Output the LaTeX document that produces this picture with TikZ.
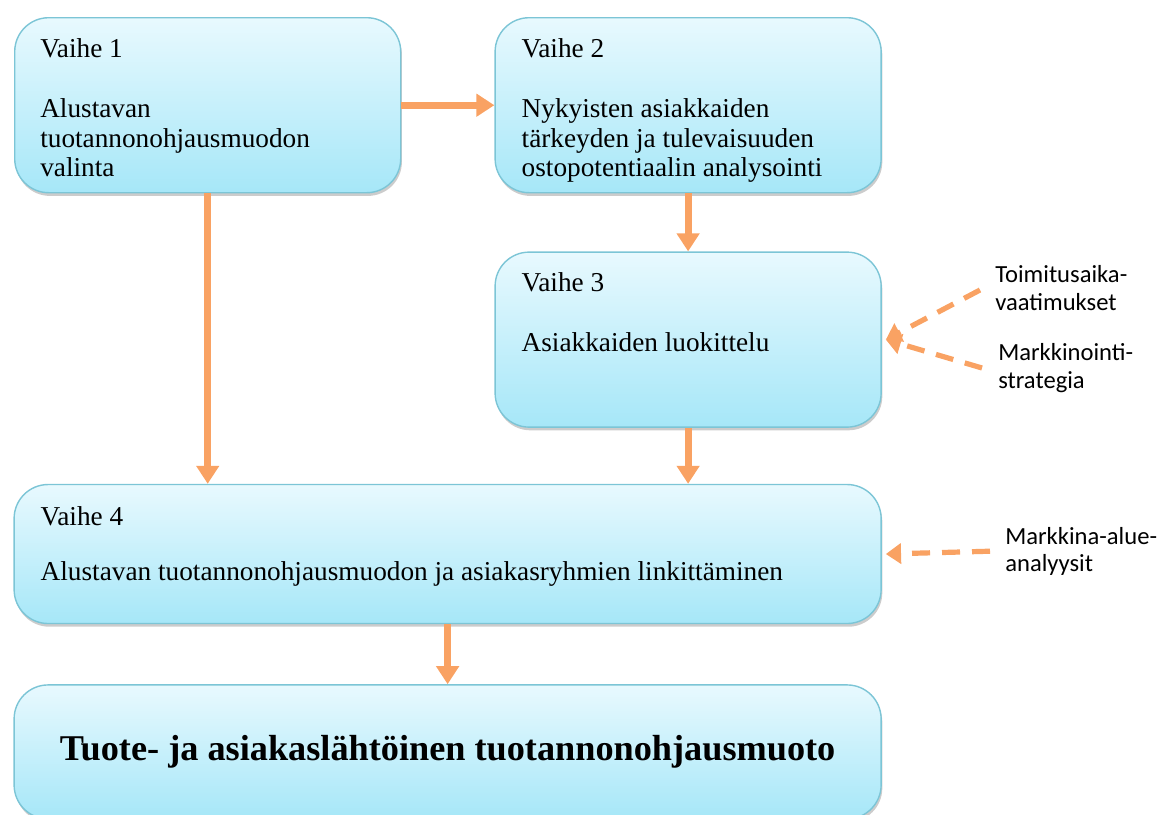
\documentclass[tikz,border=0pt]{standalone}
\usepackage{fontspec}
\setmainfont{Liberation Serif}
\newfontfamily\notefont{Carlito}
\usetikzlibrary{arrows.meta,positioning,shadows}

\definecolor{boxtop}{HTML}{E8F9FE}
\definecolor{boxbottom}{HTML}{A6E7F8}
\definecolor{boxline}{HTML}{7CC5D6}
\definecolor{flowcol}{HTML}{F9A263}

\begin{document}
\begin{tikzpicture}[node distance=1.4cm,
    every node/.style={font=\fontsize{19.4}{21.3}\selectfont, inner sep=0pt},
    stage/.style={draw=boxline, line width=1pt, rounded corners=0.85cm, top color=boxtop, bottom color=boxbottom,
        drop shadow={shadow xshift=0.03cm, shadow yshift=-0.08cm, opacity=0.2, fill=black}},
    flow/.style={draw=flowcol, line width=0.175cm, -{Triangle[length=0.45cm,width=0.55cm]}},
    hint/.style={draw=flowcol, line width=0.13cm, dash pattern=on 0.45cm off 0.3cm, -{Triangle[length=0.38cm,width=0.5cm]}},
    note/.style={font=\notefont\fontsize{17.5}{19.5}\selectfont, align=left, anchor=west}]
    \useasboundingbox (0,0) rectangle (29.05,-20.35);

    % stages
    \node[stage, minimum width=9.65cm, minimum height=4.375cm, anchor=north west] (stage1) at (0.35,-0.425) {};
    \node[stage, minimum width=9.65cm, minimum height=4.375cm, right=2.325cm of stage1] (stage2) {};
    \node[stage, minimum width=9.65cm, minimum height=4.375cm, below=1.45cm of stage2] (stage3) {};
    \node[stage, minimum width=21.675cm, minimum height=3.475cm, below=1.4cm of stage3.south east, anchor=north east] (stage4) {};
    \node[stage, minimum width=21.675cm, minimum height=3.35cm, below=1.5cm of stage4,
        font=\fontsize{25.8}{28}\selectfont\bfseries] (stage5) {Tuote- ja asiakaslähtöinen tuotannonohjausmuoto};

    \node[anchor=north west, align=left] (text1) at ([xshift=0.65cm, yshift=-0.525cm]stage1.north west)
        {Vaihe 1\\[21.3pt]Alustavan\\tuotannonohjausmuodon\\valinta};
    \node[anchor=north west, align=left] (text2) at ([xshift=0.675cm, yshift=-0.525cm]stage2.north west)
        {Vaihe 2\\[21.3pt]Nykyisten asiakkaiden\\tärkeyden ja tulevaisuuden\\ostopotentiaalin analysointi};
    \node[anchor=north west, align=left] (text3) at ([xshift=0.675cm, yshift=-0.525cm]stage3.north west)
        {Vaihe 3\\[21.3pt]Asiakkaiden luokittelu};
    \node[anchor=north west, align=left] (text4) at ([xshift=0.675cm, yshift=-0.55cm]stage4.north west)
        {Vaihe 4\\[18pt]Alustavan tuotannonohjausmuodon ja asiakasryhmien linkittäminen};

    % side inputs
    \node[note] (need1) at (24.875,-7.2) {Toimitusaika-\\vaatimukset};
    \node[note] (need2) at (24.95,-9.2) {Markkinointi-\\strategia};
    \node[note] (need3) at (25.125,-13.78) {Markkina-alue-\\analyysit};

    \draw[flow] (stage1) -- (stage2);
    \draw[flow] (stage1.south) -- (stage1.south |- stage4.north);
    \draw[flow] (stage2) -- (stage3);
    \draw[flow] (stage3.south) -- (stage3.south |- stage4.north);
    \draw[flow] (stage4) -- (stage5);

    \draw[hint] ([xshift=-0.375cm, yshift=-0.05cm]need1.west) -- ([xshift=0.1cm]stage3.east);
    \draw[hint] ([xshift=-0.4cm]need2.west) -- ([xshift=0.1cm]stage3.east);
    \draw[hint] ([xshift=-0.375cm]need3.west) -- ([xshift=0.1cm]stage4.east);
\end{tikzpicture}
\end{document}
